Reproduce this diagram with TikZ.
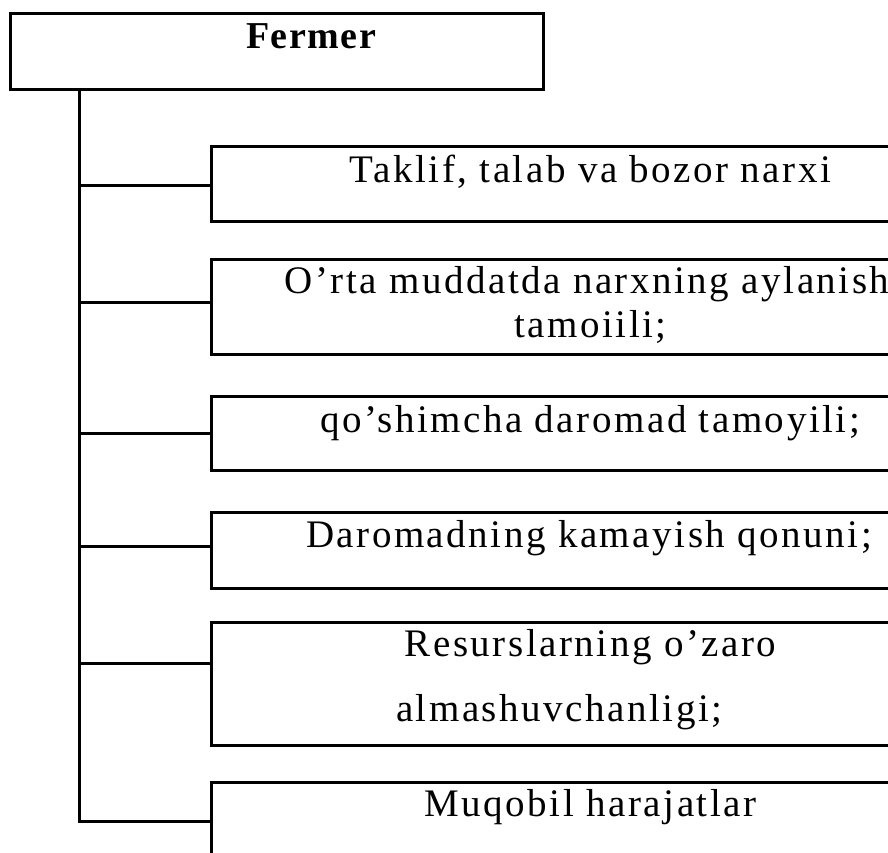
\documentclass[tikz,border=0pt]{standalone}
\usepackage{fontspec}
\setmainfont{Liberation Serif}[LetterSpace=6.5]
\tikzset{
  box/.style={draw, line width=3pt, inner sep=0pt, outer sep=0pt, anchor=north west},
  txt/.style={inner sep=0pt, outer sep=0pt, anchor=base, font=\fontsize{39}{41}\selectfont},
  conn/.style={line width=3pt},
}
\begin{document}
\begin{tikzpicture}[x=1pt,y=-1pt]
\useasboundingbox (0,0) rectangle (888,852);
\begin{scope}
\clip (0,0) rectangle (888,852);
% boxes
\node[box, minimum width=533pt, minimum height=76pt] (fermer) at (10.7,13.3) {};
\node[box, minimum width=700pt, minimum height=75.7pt] (b1) at (211,146) {};
\node[box, minimum width=700pt, minimum height=95.3pt] (b2) at (211,259) {};
\node[box, minimum width=700pt, minimum height=74pt] (b3) at (211,396.7) {};
\node[box, minimum width=700pt, minimum height=76pt] (b4) at (211,512) {};
\node[box, minimum width=700pt, minimum height=123pt] (b5) at (211,622) {};
\node[box, minimum width=700pt, minimum height=150pt] (b6) at (211,782) {};
% texts
\node[txt, font=\fontsize{38}{40}\selectfont\bfseries\addfontfeatures{LetterSpace=4}] (tf) at (311,48) {Fermer};
\node[txt] (t1) at (590.5,182) {Taklif, talab va bozor narxi};
\node[txt] (t2a) at (587,293) {O’rta muddatda narxning aylanish};
\node[txt] (t2b) at (590.5,337) {tamoiili;};
\node[txt] (t3) at (590,432) {qo’shimcha daromad tamoyili;};
\node[txt] (t4) at (589,547.5) {Daromadning kamayish qonuni;};
\node[txt] (t5a) at (590.5,656) {Resurslarning o’zaro};
\node[txt, anchor=base west] (t5b) at (396,721) {almashuvchanligi;};
\node[txt] (t6) at (590.5,816) {Muqobil harajatlar};
% connectors
\coordinate (j1) at (79,185);
\coordinate (j2) at (79,302);
\coordinate (j3) at (79,433.3);
\coordinate (j4) at (79,546.7);
\coordinate (j5) at (79,663.7);
\coordinate (j6) at (79,821);
\draw[conn] (fermer.south -| j6) -- (j6) -- (j6 -| b6.west);
\draw[conn] (j1) -- (j1 -| b1.west);
\draw[conn] (j2) -- (j2 -| b2.west);
\draw[conn] (j3) -- (j3 -| b3.west);
\draw[conn] (j4) -- (j4 -| b4.west);
\draw[conn] (j5) -- (j5 -| b5.west);
\end{scope}
\end{tikzpicture}
\end{document}
